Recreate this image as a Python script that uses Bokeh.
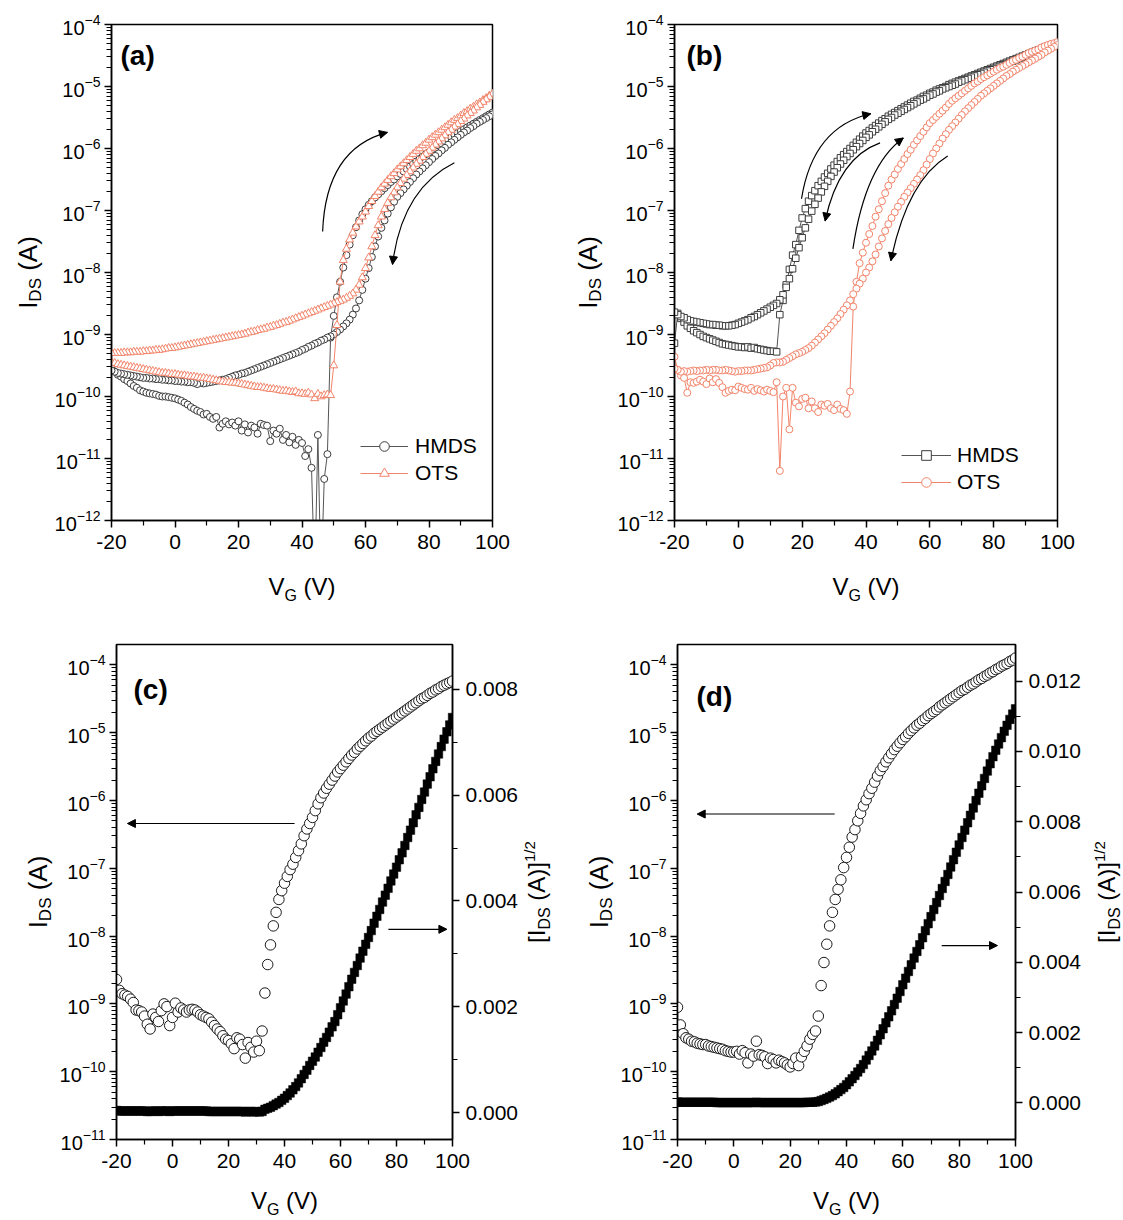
import math
from bokeh.plotting import figure
from bokeh.models import (Range1d, LinearAxis, LinearScale, FixedTicker, LogTickFormatter,
                          NumeralTickFormatter, Label, Legend, LegendItem,
                          Arrow, NormalHead, ColumnDataSource)
from bokeh.layouts import column, row
from bokeh.embed import file_html
from bokeh.resources import INLINE

FONT = "Liberation Sans"

# ---------------- data ----------------
# gate voltage sweep (V), 1 V steps
VG = list(range(-20, 101))

# Panel (a): log10(I_DS / A), listed for VG = -20 ... 100
A_HMDS_FWD = [-9.54, -9.60, -9.65, -9.68, -9.72, -9.75, -9.79, -9.83, -9.86, -9.90,
              -9.92, -9.94, -9.95, -9.96, -9.97, -9.99, -10.00, -10.00, -10.01, -10.02,
              -10.03, -10.05, -10.07, -10.10, -10.13, -10.17, -10.20, -10.23, -10.25, -10.29,
              -10.28, -10.33, -10.36, -10.33, -10.50, -10.44, -10.40, -10.45, -10.42, -10.47,
              -10.40, -10.55, -10.45, -10.58, -10.47, -10.50, -10.60, -10.44, -10.46, -10.47,
              -10.72, -10.55, -10.60, -10.52, -10.70, -10.62, -10.74, -10.65, -10.78, -10.70,
              -10.75, -10.96, -10.85, -11.15, -13.00, -10.62, -13.00, -11.33, -10.93, -9.05,
              -8.70, -8.40, -8.15, -7.92, -7.72, -7.55, -7.40, -7.27, -7.16, -7.06,
              -6.98, -6.91, -6.85, -6.79, -6.74, -6.69, -6.64, -6.59, -6.54, -6.50,
              -6.45, -6.41, -6.37, -6.33, -6.29, -6.25, -6.21, -6.17, -6.13, -6.09,
              -6.06, -6.02, -5.99, -5.95, -5.92, -5.88, -5.85, -5.82, -5.78, -5.75,
              -5.72, -5.69, -5.66, -5.63, -5.60, -5.57, -5.54, -5.51, -5.48, -5.45,
              -5.42]
A_HMDS_REV = [-9.58, -9.60, -9.62, -9.63, -9.64, -9.65, -9.66, -9.67, -9.68, -9.69,
              -9.70, -9.70, -9.71, -9.71, -9.72, -9.72, -9.73, -9.73, -9.74, -9.74,
              -9.75, -9.75, -9.76, -9.76, -9.77, -9.77, -9.78, -9.80, -9.78, -9.79,
              -9.78, -9.77, -9.76, -9.75, -9.74, -9.73, -9.72, -9.70, -9.68, -9.66,
              -9.65, -9.63, -9.62, -9.60, -9.58, -9.56, -9.54, -9.52, -9.50, -9.48,
              -9.46, -9.44, -9.42, -9.40, -9.38, -9.36, -9.34, -9.32, -9.30, -9.28,
              -9.25, -9.23, -9.20, -9.18, -9.15, -9.13, -9.10, -9.08, -9.05, -9.03,
              -9.00, -8.96, -8.92, -8.87, -8.82, -8.76, -8.68, -8.58, -8.45, -8.28,
              -8.10, -7.93, -7.75, -7.58, -7.42, -7.28, -7.16, -7.05, -6.95, -6.86,
              -6.78, -6.72, -6.66, -6.60, -6.54, -6.48, -6.42, -6.37, -6.32, -6.27,
              -6.22, -6.17, -6.12, -6.08, -6.03, -5.99, -5.94, -5.90, -5.86, -5.82,
              -5.78, -5.74, -5.71, -5.67, -5.64, -5.60, -5.57, -5.54, -5.51, -5.48,
              -5.45]
A_OTS_FWD = [-9.45, -9.46, -9.48, -9.49, -9.50, -9.51, -9.52, -9.53, -9.54, -9.55,
             -9.56, -9.57, -9.58, -9.59, -9.60, -9.61, -9.62, -9.62, -9.63, -9.64,
             -9.64, -9.65, -9.66, -9.66, -9.67, -9.68, -9.68, -9.69, -9.70, -9.70,
             -9.71, -9.72, -9.73, -9.74, -9.75, -9.76, -9.77, -9.77, -9.78, -9.78,
             -9.79, -9.80, -9.81, -9.82, -9.83, -9.84, -9.85, -9.85, -9.86, -9.87,
             -9.88, -9.88, -9.89, -9.90, -9.91, -9.91, -9.92, -9.93, -9.92, -9.95,
             -9.95, -9.96, -9.94, -9.97, -10.03, -9.96, -10.00, -9.98, -9.97, -9.98,
             -9.50, -8.85, -8.15, -7.80, -7.62, -7.47, -7.36, -7.26, -7.18, -7.10,
             -7.02, -6.93, -6.85, -6.77, -6.70, -6.63, -6.57, -6.51, -6.45, -6.40,
             -6.34, -6.29, -6.24, -6.19, -6.14, -6.09, -6.04, -6.00, -5.95, -5.91,
             -5.86, -5.82, -5.78, -5.74, -5.70, -5.66, -5.62, -5.58, -5.54, -5.51,
             -5.47, -5.43, -5.40, -5.36, -5.33, -5.29, -5.26, -5.22, -5.19, -5.15,
             -5.12]
A_OTS_REV = [-9.30, -9.30, -9.30, -9.30, -9.29, -9.29, -9.29, -9.28, -9.28, -9.28,
             -9.27, -9.27, -9.26, -9.26, -9.25, -9.25, -9.24, -9.23, -9.22, -9.22,
             -9.21, -9.20, -9.19, -9.18, -9.17, -9.16, -9.15, -9.14, -9.13, -9.12,
             -9.11, -9.10, -9.09, -9.08, -9.07, -9.06, -9.05, -9.04, -9.03, -9.02,
             -9.01, -9.00, -8.99, -8.97, -8.96, -8.95, -8.93, -8.92, -8.91, -8.89,
             -8.88, -8.86, -8.85, -8.83, -8.81, -8.80, -8.78, -8.76, -8.74, -8.72,
             -8.70, -8.68, -8.66, -8.64, -8.62, -8.60, -8.58, -8.56, -8.54, -8.52,
             -8.50, -8.48, -8.46, -8.44, -8.41, -8.38, -8.34, -8.28, -8.20, -8.08,
             -7.93, -7.76, -7.58, -7.40, -7.24, -7.10, -6.98, -6.88, -6.79, -6.71,
             -6.63, -6.56, -6.49, -6.43, -6.37, -6.31, -6.25, -6.20, -6.14, -6.09,
             -6.04, -5.99, -5.94, -5.89, -5.84, -5.79, -5.74, -5.70, -5.65, -5.61,
             -5.56, -5.52, -5.47, -5.43, -5.39, -5.34, -5.30, -5.25, -5.21, -5.17,
             -5.12]

# Panel (b): log10(I_DS / A)
B_HMDS_FWD = [-9.14, -8.66, -8.74, -8.80, -8.86, -8.90, -8.94, -8.97, -9.00, -9.03,
              -9.05, -9.07, -9.09, -9.11, -9.13, -9.15, -9.16, -9.17, -9.18, -9.19,
              -9.20, -9.20, -9.21, -9.20, -9.22, -9.21, -9.23, -9.24, -9.25, -9.26,
              -9.27, -9.27, -9.28, -8.68, -8.45, -8.20, -7.95, -7.72, -7.55, -7.32,
              -7.12, -6.97, -6.85, -6.76, -6.68, -6.60, -6.53, -6.46, -6.40, -6.33,
              -6.27, -6.21, -6.15, -6.10, -6.05, -6.00, -5.95, -5.90, -5.85, -5.80,
              -5.75, -5.71, -5.67, -5.63, -5.59, -5.55, -5.52, -5.48, -5.45, -5.42,
              -5.39, -5.36, -5.33, -5.30, -5.27, -5.24, -5.22, -5.19, -5.16, -5.14,
              -5.11, -5.09, -5.06, -5.04, -5.02, -5.00, -4.97, -4.95, -4.93, -4.91,
              -4.89, -4.87, -4.85, -4.83, -4.81, -4.79, -4.77, -4.75, -4.73, -4.71,
              -4.69, -4.67, -4.65, -4.63, -4.61, -4.59, -4.57, -4.55, -4.53, -4.51,
              -4.49, -4.47, -4.45, -4.43, -4.41, -4.39, -4.37, -4.35, -4.34, -4.32,
              -4.30]
B_HMDS_REV = [-8.64, -8.68, -8.71, -8.73, -8.76, -8.78, -8.79, -8.80, -8.81, -8.82,
              -8.83, -8.84, -8.84, -8.85, -8.85, -8.86, -8.86, -8.86, -8.85, -8.84,
              -8.82, -8.80, -8.78, -8.76, -8.73, -8.71, -8.68, -8.65, -8.62, -8.59,
              -8.56, -8.53, -8.50, -8.44, -8.36, -8.24, -8.10, -7.94, -7.77, -7.60,
              -7.44, -7.28, -7.14, -7.01, -6.90, -6.80, -6.70, -6.61, -6.53, -6.45,
              -6.38, -6.31, -6.25, -6.19, -6.13, -6.08, -6.02, -5.97, -5.92, -5.87,
              -5.82, -5.78, -5.73, -5.69, -5.65, -5.61, -5.57, -5.53, -5.50, -5.46,
              -5.43, -5.40, -5.37, -5.34, -5.31, -5.28, -5.25, -5.22, -5.20, -5.17,
              -5.14, -5.12, -5.09, -5.07, -5.04, -5.02, -5.00, -4.98, -4.96, -4.93,
              -4.91, -4.89, -4.87, -4.85, -4.83, -4.81, -4.79, -4.77, -4.75, -4.73,
              -4.71, -4.69, -4.67, -4.65, -4.63, -4.61, -4.59, -4.57, -4.55, -4.53,
              -4.51, -4.49, -4.47, -4.45, -4.43, -4.41, -4.39, -4.37, -4.35, -4.33,
              -4.31]
B_OTS_FWD = [-9.36, -9.57, -9.66, -9.70, -9.94, -9.77, -9.78, -9.76, -9.73, -9.76,
             -9.80, -9.71, -9.77, -9.72, -9.78, -9.85, -9.94, -9.91, -9.89, -9.90,
             -9.84, -9.86, -9.88, -9.89, -9.86, -9.91, -9.88, -9.90, -9.92, -9.89,
             -9.91, -9.93, -9.77, -11.20, -10.00, -9.86, -10.53, -9.86, -10.10, -10.16,
             -10.04, -10.02, -10.19, -10.08, -10.19, -10.25, -10.13, -10.15, -10.12, -10.19,
             -10.22, -10.13, -10.20, -10.22, -10.28, -9.92, -8.55, -8.15, -7.85, -7.68,
             -7.52, -7.38, -7.25, -7.10, -6.98, -6.85, -6.72, -6.60, -6.50, -6.42,
             -6.33, -6.25, -6.17, -6.09, -6.02, -5.94, -5.87, -5.80, -5.73, -5.66,
             -5.59, -5.54, -5.49, -5.44, -5.39, -5.34, -5.28, -5.23, -5.19, -5.15,
             -5.11, -5.07, -5.03, -4.99, -4.95, -4.92, -4.88, -4.85, -4.82, -4.79,
             -4.76, -4.73, -4.70, -4.68, -4.65, -4.62, -4.59, -4.57, -4.54, -4.52,
             -4.49, -4.46, -4.44, -4.42, -4.40, -4.37, -4.35, -4.33, -4.31, -4.30,
             -4.28]
B_OTS_REV = [-9.55, -9.57, -9.60, -9.59, -9.60, -9.59, -9.58, -9.59, -9.58, -9.58,
             -9.57, -9.58, -9.57, -9.57, -9.58, -9.58, -9.57, -9.58, -9.59, -9.60,
             -9.59, -9.59, -9.58, -9.58, -9.58, -9.57, -9.56, -9.55, -9.54, -9.53,
             -9.50, -9.46, -9.45, -9.45, -9.44, -9.41, -9.38, -9.35, -9.32, -9.30,
             -9.28, -9.25, -9.22, -9.18, -9.13, -9.08, -9.03, -8.98, -8.92, -8.86,
             -8.80, -8.74, -8.67, -8.60, -8.53, -8.45, -8.35, -8.26, -8.18, -8.10,
             -8.00, -7.92, -7.82, -7.71, -7.58, -7.45, -7.33, -7.22, -7.12, -7.03,
             -6.94, -6.86, -6.78, -6.71, -6.64, -6.57, -6.50, -6.43, -6.35, -6.26,
             -6.17, -6.08, -6.00, -5.92, -5.84, -5.77, -5.70, -5.64, -5.58, -5.52,
             -5.46, -5.40, -5.35, -5.30, -5.25, -5.20, -5.15, -5.11, -5.07, -5.03,
             -4.99, -4.95, -4.91, -4.87, -4.83, -4.80, -4.76, -4.73, -4.70, -4.67,
             -4.64, -4.61, -4.58, -4.55, -4.52, -4.49, -4.45, -4.42, -4.39, -4.36,
             -4.33]

# Panel (c): log10(I_DS / A) and [I_DS (A)]^1/2
C_LOG_I = [-8.64, -8.80, -8.85, -8.87, -8.89, -8.93, -8.98, -9.09, -9.10, -9.12,
           -9.18, -9.30, -9.37, -9.15, -9.20, -9.26, -9.10, -9.00, -9.04, -9.32,
           -9.20, -8.99, -9.12, -9.06, -9.09, -9.12, -9.09, -9.08, -9.09, -9.12,
           -9.16, -9.18, -9.20, -9.22, -9.27, -9.32, -9.37, -9.41, -9.47, -9.52,
           -9.54, -9.59, -9.66, -9.50, -9.52, -9.60, -9.80, -9.57, -9.64, -9.71,
           -9.55, -9.69, -9.40, -8.84, -8.42, -8.13, -7.85, -7.65, -7.46, -7.33,
           -7.22, -7.12, -7.02, -6.94, -6.84, -6.74, -6.64, -6.52, -6.42, -6.34,
           -6.25, -6.15, -6.05, -5.96, -5.89, -5.82, -5.76, -5.70, -5.64, -5.58,
           -5.53, -5.48, -5.43, -5.38, -5.33, -5.29, -5.24, -5.20, -5.16, -5.12,
           -5.08, -5.05, -5.01, -4.98, -4.95, -4.92, -4.89, -4.86, -4.83, -4.80,
           -4.77, -4.74, -4.71, -4.68, -4.65, -4.62, -4.59, -4.56, -4.53, -4.50,
           -4.48, -4.45, -4.42, -4.40, -4.37, -4.35, -4.32, -4.30, -4.28, -4.26,
           -4.24]
C_SQRT_I = [0.00004, 0.00003, 0.00003, 0.00003, 0.00003, 0.00003, 0.00003, 0.00003, 0.00003, 0.00003,
            0.00003, 0.00002, 0.00002, 0.00003, 0.00003, 0.00002, 0.00003, 0.00003, 0.00003, 0.00002,
            0.00003, 0.00003, 0.00003, 0.00003, 0.00003, 0.00003, 0.00003, 0.00003, 0.00003, 0.00003,
            0.00003, 0.00003, 0.00003, 0.00002, 0.00002, 0.00002, 0.00002, 0.00002, 0.00002, 0.00002,
            0.00002, 0.00002, 0.00002, 0.00002, 0.00002, 0.00002, 0.00001, 0.00002, 0.00002, 0.00001,
            0.00002, 0.00001, 0.00002, 0.00006, 0.00008, 0.00010, 0.00013, 0.00016, 0.00019, 0.00023,
            0.00027, 0.00032, 0.00037, 0.00043, 0.00049, 0.00056, 0.00064, 0.00072, 0.00080, 0.00089,
            0.00097, 0.00105, 0.00114, 0.00123, 0.00133, 0.00142, 0.00152, 0.00162, 0.00172, 0.00185,
            0.00198, 0.00211, 0.00224, 0.00238, 0.00252, 0.00265, 0.00278, 0.00292, 0.00305, 0.00318,
            0.00331, 0.00344, 0.00358, 0.00371, 0.00384, 0.00398, 0.00411, 0.00424, 0.00438, 0.00451,
            0.00464, 0.00478, 0.00491, 0.00505, 0.00520, 0.00534, 0.00548, 0.00563, 0.00577, 0.00592,
            0.00606, 0.00621, 0.00635, 0.00650, 0.00664, 0.00678, 0.00692, 0.00706, 0.00720, 0.00733,
            0.00747]

# Panel (d)
D_LOG_I = [-9.05, -9.31, -9.44, -9.50, -9.52, -9.55, -9.56, -9.58, -9.59, -9.60,
           -9.60, -9.62, -9.63, -9.64, -9.65, -9.66, -9.67, -9.69, -9.70, -9.71,
           -9.71, -9.70, -9.74, -9.69, -9.72, -9.87, -9.74, -9.77, -9.55, -9.75,
           -9.76, -9.78, -9.88, -9.80, -9.82, -9.87, -9.83, -9.85, -9.87, -9.90,
           -9.93, -9.88, -9.80, -9.91, -9.78, -9.70, -9.62, -9.52, -9.45, -9.40,
           -9.18, -8.73, -8.39, -8.12, -7.85, -7.65, -7.46, -7.31, -7.17, -6.99,
           -6.84, -6.69, -6.54, -6.43, -6.30, -6.19, -6.08, -5.99, -5.90, -5.82,
           -5.73, -5.64, -5.56, -5.50, -5.43, -5.37, -5.31, -5.25, -5.20, -5.15,
           -5.10, -5.06, -5.01, -4.97, -4.93, -4.89, -4.86, -4.82, -4.79, -4.75,
           -4.72, -4.69, -4.66, -4.62, -4.59, -4.56, -4.53, -4.50, -4.47, -4.44,
           -4.41, -4.38, -4.36, -4.33, -4.30, -4.28, -4.25, -4.22, -4.20, -4.17,
           -4.15, -4.12, -4.10, -4.07, -4.05, -4.02, -4.00, -3.98, -3.95, -3.93,
           -3.90]
D_SQRT_I = [0.00003, 0.00002, 0.00002, 0.00002, 0.00002, 0.00002, 0.00002, 0.00002, 0.00002, 0.00002,
            0.00002, 0.00002, 0.00002, 0.00002, 0.00001, 0.00001, 0.00001, 0.00001, 0.00001, 0.00001,
            0.00001, 0.00001, 0.00001, 0.00001, 0.00001, 0.00001, 0.00001, 0.00001, 0.00002, 0.00001,
            0.00001, 0.00001, 0.00001, 0.00001, 0.00001, 0.00001, 0.00001, 0.00001, 0.00001, 0.00001,
            0.00001, 0.00001, 0.00001, 0.00001, 0.00001, 0.00001, 0.00002, 0.00002, 0.00002, 0.00003,
            0.00004, 0.00007, 0.00010, 0.00013, 0.00017, 0.00021, 0.00026, 0.00032, 0.00038, 0.00044,
            0.00052, 0.00060, 0.00069, 0.00078, 0.00088, 0.00098, 0.00109, 0.00122, 0.00135, 0.00148,
            0.00162, 0.00178, 0.00194, 0.00211, 0.00228, 0.00245, 0.00262, 0.00280, 0.00298, 0.00317,
            0.00336, 0.00355, 0.00374, 0.00393, 0.00412, 0.00431, 0.00450, 0.00470, 0.00490, 0.00510,
            0.00530, 0.00550, 0.00570, 0.00590, 0.00610, 0.00630, 0.00650, 0.00671, 0.00692, 0.00713,
            0.00734, 0.00755, 0.00776, 0.00797, 0.00818, 0.00839, 0.00860, 0.00881, 0.00902, 0.00923,
            0.00944, 0.00965, 0.00985, 0.01003, 0.01021, 0.01039, 0.01057, 0.01074, 0.01091, 0.01106,
            0.01121]

X_TICKS = [-20, 0, 20, 40, 60, 80, 100]
X_MINOR = [-10, 10, 30, 50, 70, 90]
C_RIGHT_TICKS = [0.0, 0.002, 0.004, 0.006, 0.008]
C_RIGHT_MINOR = [0.001, 0.003, 0.005, 0.007]
D_RIGHT_TICKS = [0.0, 0.002, 0.004, 0.006, 0.008, 0.010, 0.012]
D_RIGHT_MINOR = [0.001, 0.003, 0.005, 0.007, 0.009, 0.011]

BLACK = "#1a1a1a"
GRAY = "#3c3c3c"
SALMON = "#f2846a"

# Arial / Liberation Sans advance widths (em) for composing titles
CW = {"V": .667, "G": .778, " ": .278, "(": .333, ")": .333, "I": .278, "D": .722,
      "S": .667, "A": .667, "[": .278, "]": .278, "1": .556, "/": .278, "2": .556}


def tw(text, size):
    return sum(CW.get(c, .6) for c in text) * size


def to_amp(exps):
    return [10.0 ** e for e in exps]


def style_axis(ax, standoff, font_px):
    ax.axis_line_width = 1.5
    ax.axis_line_color = "black"
    ax.major_tick_line_width = 1.5
    ax.minor_tick_line_width = 1.2
    ax.major_tick_in = 0
    ax.major_tick_out = 7
    ax.minor_tick_in = 0
    ax.minor_tick_out = 5
    ax.major_label_text_font = FONT
    ax.major_label_text_font_size = f"{font_px}px"
    ax.major_label_text_color = "black"
    ax.major_label_standoff = standoff


def make_fig(fw, fh, bl, br, bt, bb, dec_lo, top_exp):
    p = figure(frame_width=fw, frame_height=fh, min_border_left=bl, min_border_right=br,
               min_border_top=bt, min_border_bottom=bb,
               x_range=Range1d(-20, 100), y_range=Range1d(10.0 ** dec_lo, 10.0 ** top_exp),
               y_axis_type="log", output_backend="svg", toolbar_location=None)
    p.grid.visible = False
    p.outline_line_color = "black"
    p.outline_line_width = 1.5
    p.outline_line_alpha = 1.0
    p.background_fill_color = "white"
    p.border_fill_color = "white"
    xa = p.xaxis[0]
    xa.ticker = FixedTicker(ticks=X_TICKS, minor_ticks=X_MINOR)
    xa.formatter = NumeralTickFormatter(format="0")
    style_axis(xa, 7, 21)
    ya = p.yaxis[0]
    top_dec = int(math.floor(top_exp))
    ya.ticker = FixedTicker(ticks=[10.0 ** k for k in range(dec_lo, top_dec + 1)],
                            minor_ticks=[m * 10.0 ** k for k in range(dec_lo, top_dec + 1)
                                         for m in range(2, 10)])
    ya.formatter = LogTickFormatter()
    style_axis(ya, 4, 20)
    return p


def text_fig(w, h):
    f = figure(width=w, height=h, min_border=0, x_range=Range1d(0, 1), y_range=Range1d(0, 1),
               x_axis_type=None, y_axis_type=None, toolbar_location=None,
               output_backend="svg")
    f.outline_line_color = None
    f.background_fill_color = "white"
    f.border_fill_color = "white"
    return f


def add_piece(p, text, x, y, size, angle=0.0):
    p.add_layout(Label(x=x, y=y, x_units="screen", y_units="screen", text=text,
                       angle=angle, angle_units="deg", text_font=FONT,
                       text_font_size=f"{size}px", text_color="black",
                       text_align="left", text_baseline="middle"))


# title pieces: (text, font size, offset of the glyph centre "down" in px)
def h_title(p, pieces, xc, yc):
    total = sum(tw(t, s) for t, s, _ in pieces)
    x = xc - total / 2
    for t, s, dn in pieces:
        lead = len(t) - len(t.lstrip(" "))
        x0 = x + lead * CW[" "] * s
        add_piece(p, t.lstrip(" "), x0, yc - dn, s)
        x += tw(t, s)


def v_title(p, pieces, xc, yc):
    total = sum(tw(t, s) for t, s, _ in pieces)
    y = yc - total / 2
    for t, s, dn in pieces:
        lead = len(t) - len(t.lstrip(" "))
        y0 = y + lead * CW[" "] * s
        add_piece(p, t.lstrip(" "), xc + dn, y0, s, angle=90)
        y += tw(t, s)


def panel_tag(p, text, dx, dy, fh):
    p.add_layout(Label(x=dx, y=fh - dy, x_units="screen", y_units="screen", text=text,
                       text_font=FONT, text_font_size="28px", text_font_style="bold",
                       text_color="black", text_align="left", text_baseline="top"))


def curved_arrow(p, x0, e0, xc, ec, x1, e1):
    p.quadratic(x0=[x0], y0=[10.0 ** e0], x1=[x1], y1=[10.0 ** e1],
                cx=[xc], cy=[10.0 ** ec], line_color="black", line_width=1.2)
    t = 0.10
    xs = x1 - t * (x1 - xc)
    es = e1 - t * (e1 - ec)
    p.add_layout(Arrow(end=NormalHead(size=8, fill_color="black", line_color="black"),
                       x_start=xs, y_start=10.0 ** es, x_end=x1, y_end=10.0 ** e1,
                       line_color="black", line_width=1.2))


def straight_arrow(p, x0, x1, e):
    p.add_layout(Arrow(end=NormalHead(size=8, fill_color="black", line_color="black"),
                       x_start=x0, y_start=10.0 ** e, x_end=x1, y_end=10.0 ** e,
                       line_color="black", line_width=1.2))


def sweep(p, fwd, rev, color, marker, size, line_color):
    xs = VG + VG[::-1]
    ys = to_amp(fwd) + to_amp(rev)[::-1]
    src = ColumnDataSource(dict(x=xs, y=ys))
    lr = p.line("x", "y", source=src, line_color=line_color, line_width=1.0)
    sr = p.scatter("x", "y", source=src, marker=marker, size=size, fill_color="white",
                   line_color=color, line_width=1.0)
    return lr, sr


def legend(p, items, loc, gw, standoff):
    lg = Legend(items=[LegendItem(label=n, renderers=r) for n, r in items], location=loc,
                border_line_alpha=0, background_fill_alpha=0, padding=0, margin=0,
                spacing=3, glyph_width=gw, glyph_height=24, label_height=24,
                label_standoff=standoff, label_text_font=FONT, label_text_font_size="21px",
                label_text_color="black")
    p.add_layout(lg)


Y_TITLE = [("I", 26, 0), ("DS", 17, 8), (" (A)", 26, 0)]
X_TITLE = [("V", 24, 0), ("G", 16, 9), (" (V)", 24, 0)]
R_TITLE = [("[I", 24, 0), ("DS", 16, 8), (" (A)]", 24, 0), ("1/2", 15, -7)]

# ---------------- row 1: panels (a), (b) ----------------
ROW1_H = 610
FW_A, FH_A = 381, 496
pa = make_fig(FW_A, FH_A, 65, 68, 24, 40, -12, -4)
la1, sa1 = sweep(pa, A_HMDS_FWD, A_HMDS_REV, GRAY, "circle", 7, "#555555")
la2, sa2 = sweep(pa, A_OTS_FWD, A_OTS_REV, SALMON, "triangle", 8, SALMON)
legend(pa, [("HMDS", [la1, sa1]), ("OTS", [la2, sa2])], (249, 35), 48, 7)
curved_arrow(pa, 46.5, -7.34, 47.5, -6.0, 66.9, -5.74)
curved_arrow(pa, 88.0, -6.23, 71.5, -6.65, 68.5, -7.87)
panel_tag(pa, "(a)", 9, 15, FH_A)
ta = text_fig(46, ROW1_H)
v_title(ta, Y_TITLE, 27, ROW1_H - 272)
xa_t = text_fig(514, ROW1_H - 560)      # frame aligns with the panel frame above
h_title(xa_t, X_TITLE, FW_A / 2, ROW1_H - 586)

FW_B, FH_B = 383, 496
pb = make_fig(FW_B, FH_B, 66, 61, 24, 40, -12, -4)
lb1, sb1 = sweep(pb, B_HMDS_FWD, B_HMDS_REV, GRAY, "square", 6.5, "#555555")
lb2, sb2 = sweep(pb, B_OTS_FWD, B_OTS_REV, SALMON, "circle", 7, SALMON)
legend(pb, [("HMDS", [lb1, sb1]), ("OTS", [lb2, sb2])], (227, 26), 50, 6)
curved_arrow(pb, 19.8, -6.81, 23.4, -5.65, 41.5, -5.44)
curved_arrow(pb, 44.4, -5.91, 31.4, -6.15, 27.2, -7.17)
curved_arrow(pb, 35.9, -7.62, 39.8, -6.27, 51.7, -5.83)
curved_arrow(pb, 65.6, -6.12, 52.9, -6.52, 47.8, -7.81)
panel_tag(pb, "(b)", 12, 15, FH_B)
tb = text_fig(48, ROW1_H)
v_title(tb, Y_TITLE, 27, ROW1_H - 272)
xb_t = text_fig(510, ROW1_H - 560)
h_title(xb_t, X_TITLE, FW_B / 2, ROW1_H - 586)

# ---------------- row 2: panels (c), (d) ----------------
ROW2_H = 609
ROW2_TOP = 610
MID2 = ROW2_TOP + ROW2_H - 891.5   # frame centre, measured from the row bottom


def transfer_panel(fw, fh, bl, br, logi, sqrti, rlo, rhi, rticks, rminor, tag, tag_dx, tag_dy,
                   left_arrow, right_arrow):
    p = make_fig(fw, fh, bl, br, 34, 40, -11, -3.70)
    p.extra_y_ranges = {"sq": Range1d(rlo, rhi)}
    p.extra_y_scales = {"sq": LinearScale()}
    rax = LinearAxis(y_range_name="sq", ticker=FixedTicker(ticks=rticks, minor_ticks=rminor),
                     formatter=NumeralTickFormatter(format="0.000"))
    style_axis(rax, 6, 21)
    p.add_layout(rax, "right")
    p.scatter(VG, sqrti, y_range_name="sq", marker="square", size=8.5,
              fill_color="black", line_color="black", line_width=0.5)
    p.scatter(VG, to_amp(logi), marker="circle", size=10.5, fill_color="white",
              line_color=BLACK, line_width=1.0)
    straight_arrow(p, left_arrow[0], left_arrow[1], left_arrow[2])
    straight_arrow(p, right_arrow[0], right_arrow[1], right_arrow[2])
    panel_tag(p, tag, tag_dx, tag_dy, fh)
    return p


pc = transfer_panel(336, 495, 61, 70, C_LOG_I, C_SQRT_I, -0.00051, 0.00885,
                    C_RIGHT_TICKS, C_RIGHT_MINOR, "(c)", 17, 29,
                    (43.6, -16.1, -6.34), (77.1, 98.0, -7.90))
tc = text_fig(55, ROW2_H)
v_title(tc, Y_TITLE, 37, MID2)
tcr = text_fig(38, ROW2_H)
v_title(tcr, R_TITLE, 14, MID2)
xc_t = text_fig(467, ROW2_H - 569)
h_title(xc_t, X_TITLE, 336 / 2, 19)

pd = transfer_panel(338, 495, 61, 75, D_LOG_I, D_SQRT_I, -0.00104, 0.01304,
                    D_RIGHT_TICKS, D_RIGHT_MINOR, "(d)", 19, 36,
                    (35.8, -13.0, -6.20), (73.8, 93.6, -8.14))
td = text_fig(56, ROW2_H)
v_title(td, Y_TITLE, 38, MID2)
tdr = text_fig(33, ROW2_H)
v_title(tdr, R_TITLE, 16, MID2)
xd_t = text_fig(474, ROW2_H - 569)
h_title(xd_t, X_TITLE, 338 / 2, 19)

layout = column(
    row(ta, column(pa, xa_t), tb, column(pb, xb_t)),
    row(tc, column(pc, xc_t), tcr, td, column(pd, xd_t), tdr),
)
open("out.html", "w").write(file_html(layout, INLINE))
